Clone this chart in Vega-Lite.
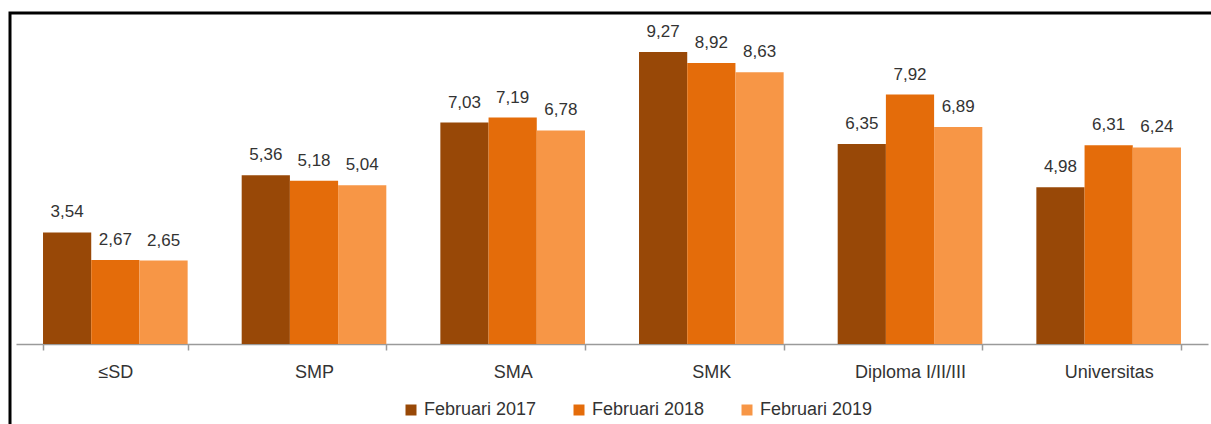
{
  "$schema": "https://vega.github.io/schema/vega-lite/v6.json",
  "width": 1205,
  "height": 420,
  "padding": {"left": 10, "top": 13, "right": 0, "bottom": 0},
  "background": "white",
  "config": {
    "locale": {"number": {"decimal": ",", "thousands": ".", "grouping": [3], "currency": ["Rp", ""]}},
    "view": {"stroke": "#000000", "strokeWidth": 3},
    "font": "Liberation Sans",
    "text": {"font": "Liberation Sans"}
  },
  "data": {
    "values": [
      {"kategori": "≤SD", "periode": "Februari 2017", "nilai": 3.54},
      {"kategori": "≤SD", "periode": "Februari 2018", "nilai": 2.67},
      {"kategori": "≤SD", "periode": "Februari 2019", "nilai": 2.65},
      {"kategori": "SMP", "periode": "Februari 2017", "nilai": 5.36},
      {"kategori": "SMP", "periode": "Februari 2018", "nilai": 5.18},
      {"kategori": "SMP", "periode": "Februari 2019", "nilai": 5.04},
      {"kategori": "SMA", "periode": "Februari 2017", "nilai": 7.03},
      {"kategori": "SMA", "periode": "Februari 2018", "nilai": 7.19},
      {"kategori": "SMA", "periode": "Februari 2019", "nilai": 6.78},
      {"kategori": "SMK", "periode": "Februari 2017", "nilai": 9.27},
      {"kategori": "SMK", "periode": "Februari 2018", "nilai": 8.92},
      {"kategori": "SMK", "periode": "Februari 2019", "nilai": 8.63},
      {"kategori": "Diploma I/II/III", "periode": "Februari 2017", "nilai": 6.35},
      {"kategori": "Diploma I/II/III", "periode": "Februari 2018", "nilai": 7.92},
      {"kategori": "Diploma I/II/III", "periode": "Februari 2019", "nilai": 6.89},
      {"kategori": "Universitas", "periode": "Februari 2017", "nilai": 4.98},
      {"kategori": "Universitas", "periode": "Februari 2018", "nilai": 6.31},
      {"kategori": "Universitas", "periode": "Februari 2019", "nilai": 6.24}
    ]
  },
  "encoding": {
    "x": {
      "field": "kategori", "type": "nominal", "sort": null,
      "scale": {"range": [6, 1198], "paddingInner": 0.272, "paddingOuter": 0.136},
      "axis": {
        "title": null, "labelAngle": 0, "offset": -89,
        "tickBand": "extent", "tickSize": 6, "tickColor": "#9a9a9a",
        "domainColor": "#9a9a9a", "domainWidth": 1.5, "tickWidth": 1.5,
        "labelFont": "Liberation Sans", "labelFontSize": 18,
        "labelColor": "#333333", "labelPadding": 13
      }
    },
    "xOffset": {"field": "periode", "type": "nominal", "scale": {"paddingInner": 0, "paddingOuter": 0}},
    "y": {
      "field": "nilai", "type": "quantitative",
      "scale": {"domain": [0, 10], "range": [331, 16], "nice": false, "zero": true},
      "axis": null
    }
  },
  "layer": [
    {
      "mark": {"type": "bar"},
      "encoding": {
        "color": {
          "field": "periode", "type": "nominal",
          "scale": {"domain": ["Februari 2017", "Februari 2018", "Februari 2019"], "range": ["#984807", "#E46C0A", "#F79646"]},
          "legend": {
            "title": null, "orient": "none", "direction": "horizontal",
            "legendX": 392, "legendY": 388,
            "symbolType": "square", "symbolSize": 121, "symbolStrokeWidth": 0,
            "labelFont": "Liberation Sans", "labelFontSize": 18, "labelColor": "#333333",
            "columnPadding": 33, "labelOffset": 4
          }
        }
      }
    },
    {
      "mark": {"type": "text", "baseline": "alphabetic", "dy": -15, "fontSize": 17, "color": "#333333", "font": "Liberation Sans"},
      "encoding": {
        "text": {"field": "nilai", "type": "quantitative", "format": ".2f"}
      }
    }
  ]
}
